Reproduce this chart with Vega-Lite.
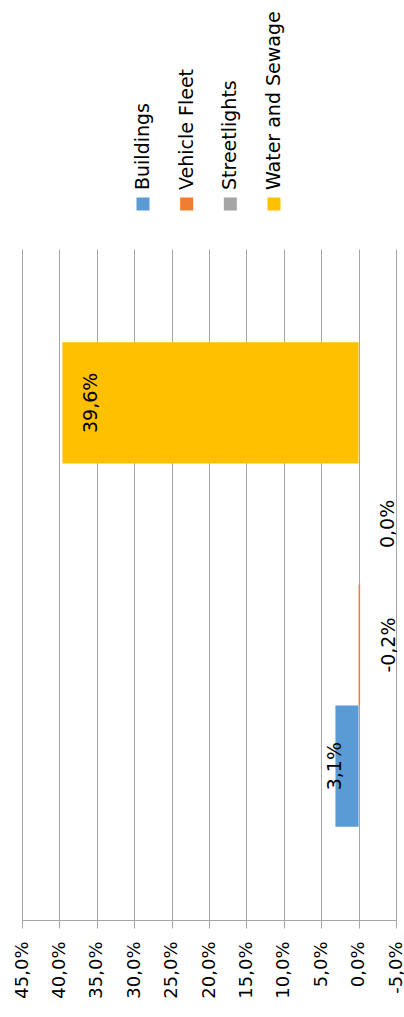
{
  "$schema": "https://vega.github.io/schema/vega-lite/v6.json",
  "background": "white",
  "padding": {"left": 13, "top": 0, "right": 0, "bottom": 0},
  "bounds": "flush",
  "spacing": 45,
  "config": {
    "view": {"stroke": null},
    "font": "DejaVu Sans",
    "locale": {"number": {"decimal": ",", "thousands": ".", "grouping": [3], "currency": ["", " €"], "minus": "-"}}
  },
  "datasets": {
    "d": [
      {"series": "Buildings", "value": 0.031},
      {"series": "Vehicle Fleet", "value": -0.002},
      {"series": "Streetlights", "value": 0.0},
      {"series": "Water and Sewage", "value": 0.396}
    ]
  },
  "resolve": {"scale": {"x": "independent", "y": "independent", "color": "shared"}},
  "vconcat": [
    {
      "width": 374,
      "height": 204,
      "data": {"name": "d"},
      "encoding": {
        "x": {"field": "series", "type": "nominal", "sort": ["Buildings", "Vehicle Fleet", "Streetlights", "Water and Sewage"], "scale": {"type": "point", "range": [121, 252], "padding": 0}, "axis": null},
        "y": {"datum": 0, "type": "quantitative", "scale": {"domain": [0, 1]}, "axis": null}
      },
      "layer": [
        {
          "mark": {"type": "square", "size": 169, "filled": true, "opacity": 1},
          "encoding": {
            "color": {"field": "series", "type": "nominal", "scale": {"domain": ["Buildings", "Vehicle Fleet", "Streetlights", "Water and Sewage"], "range": ["#5B9BD5", "#ED7D31", "#A5A5A5", "#FFC000"]}, "legend": null}
          }
        },
        {
          "mark": {"type": "text", "angle": 270, "align": "left", "baseline": "middle", "dx": 14, "fontSize": 19, "color": "#000000"},
          "encoding": {"text": {"field": "series", "type": "nominal"}}
        }
      ]
    },
    {
      "width": 374,
      "height": 671,
      "data": {"name": "d"},
      "encoding": {
        "y": {"field": "series", "type": "nominal", "sort": ["Water and Sewage", "Streetlights", "Vehicle Fleet", "Buildings"], "scale": {"paddingInner": 0, "paddingOuter": 0.77}, "axis": null},
        "x": {
          "field": "value", "type": "quantitative",
          "scale": {"domain": [-0.05, 0.45], "reverse": true, "nice": false, "zero": false},
          "axis": {
            "title": null,
            "values": [-0.05, 0, 0.05, 0.1, 0.15, 0.2, 0.25, 0.3, 0.35, 0.4, 0.45],
            "format": ".1%",
            "labelAngle": 270,
            "labelFontSize": 18,
            "labelColor": "#000000",
            "labelPadding": 13,
            "labelFlush": false,
            "labelOverlap": false,
            "grid": true,
            "gridColor": "#A6A6A6",
            "gridWidth": 1,
            "domainColor": "#A6A6A6",
            "tickColor": "#A6A6A6",
            "tickSize": 8
          }
        }
      },
      "layer": [
        {
          "mark": {"type": "bar"},
          "encoding": {
            "color": {"field": "series", "type": "nominal", "scale": {"domain": ["Buildings", "Vehicle Fleet", "Streetlights", "Water and Sewage"], "range": ["#5B9BD5", "#ED7D31", "#A5A5A5", "#FFC000"]}, "legend": null}
          }
        },
        {
          "transform": [{"filter": "datum.value > 0.1 || datum.value <= 0"}],
          "mark": {"type": "text", "angle": 270, "align": "center", "baseline": "middle", "dy": 29, "fontSize": 19, "color": "#000000"},
          "encoding": {"text": {"field": "value", "type": "quantitative", "format": ".1%"}}
        },
        {
          "transform": [{"filter": "datum.value > 0 && datum.value <= 0.1"}],
          "mark": {"type": "text", "angle": 270, "align": "center", "baseline": "middle", "fontSize": 19, "color": "#000000"},
          "encoding": {"text": {"field": "value", "type": "quantitative", "format": ".1%"}}
        }
      ]
    }
  ]
}
